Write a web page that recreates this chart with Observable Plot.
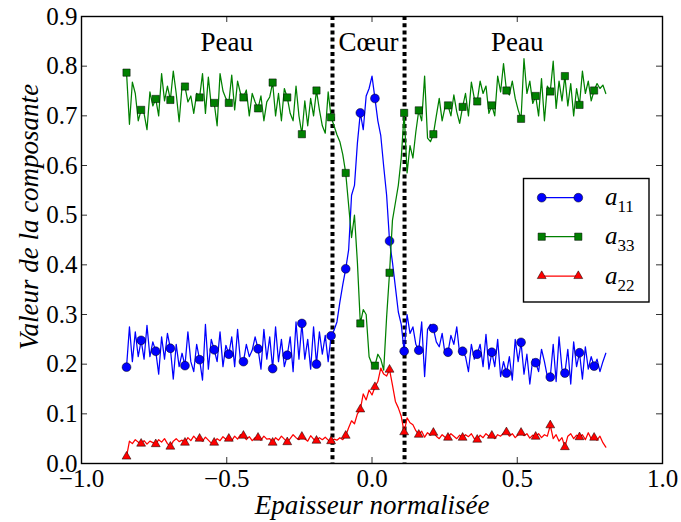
<!DOCTYPE html>
<html>
<head>
<meta charset="utf-8">
<script src="https://cdn.jsdelivr.net/npm/d3@7"></script>
<script src="https://cdn.jsdelivr.net/npm/@observablehq/plot@0.6"></script>
<style>
  html, body { margin: 0; padding: 0; background: white; }
  #wrap { position: relative; width: 681px; height: 522px; }
  #legend { position: absolute; left: 0; top: 0; }
  #wrap svg text { font-family: 'Liberation Serif', 'DejaVu Serif', serif !important; }
</style>
</head>
<body>
<div id="wrap"></div>
<script>
// ---- data ----
const xStart = -0.845;          // first sample
const xStep = 0.01006;          // sample spacing
const markEvery = 5;

const a11 = [
  0.194,0.275,0.205,0.265,0.215, 0.248,0.210,0.278,0.215,0.245,
  0.226,0.180,0.255,0.210,0.262, 0.232,0.170,0.240,0.195,0.222,
  0.197,0.265,0.205,0.185,0.240, 0.209,0.168,0.280,0.190,0.250,
  0.229,0.205,0.265,0.195,0.238, 0.220,0.255,0.195,0.270,0.205,
  0.205,0.240,0.215,0.228,0.255, 0.231,0.190,0.270,0.210,0.255,
  0.191,0.275,0.205,0.250,0.195, 0.218,0.255,0.185,0.285,0.210,
  0.282,0.210,0.250,0.190,0.275, 0.200,0.265,0.220,0.258,0.205,
  0.257,0.268,0.285,0.325,0.360, 0.392,0.430,0.540,0.560,0.645,
  0.706,0.672,0.740,0.755,0.780, 0.735,0.690,0.660,0.598,0.540,
  0.448,0.405,0.355,0.305,0.280, 0.226,0.300,0.262,0.275,0.240,
  0.228,0.285,0.175,0.270,0.280, 0.272,0.245,0.235,0.262,0.220,
  0.224,0.258,0.240,0.275,0.220, 0.226,0.215,0.185,0.240,0.210,
  0.220,0.240,0.195,0.260,0.190, 0.224,0.195,0.250,0.175,0.205,
  0.182,0.215,0.168,0.250,0.205, 0.244,0.180,0.220,0.160,0.210,
  0.203,0.185,0.230,0.205,0.175, 0.174,0.240,0.165,0.255,0.190,
  0.182,0.230,0.160,0.245,0.195, 0.223,0.170,0.235,0.190,0.215,
  0.196,0.210,0.185,0.205,0.222
];
const a33 = [
  0.787,0.683,0.768,0.745,0.690, 0.712,0.705,0.672,0.748,0.720,
  0.734,0.700,0.785,0.730,0.760, 0.732,0.790,0.745,0.688,0.760,
  0.759,0.728,0.740,0.705,0.745, 0.737,0.785,0.705,0.778,0.720,
  0.726,0.680,0.785,0.750,0.735, 0.726,0.782,0.712,0.770,0.745,
  0.737,0.752,0.700,0.745,0.728, 0.715,0.740,0.690,0.728,0.738,
  0.767,0.700,0.745,0.690,0.755, 0.737,0.705,0.690,0.760,0.700,
  0.663,0.730,0.680,0.735,0.700, 0.751,0.712,0.680,0.665,0.748,
  0.697,0.680,0.662,0.648,0.622, 0.585,0.520,0.455,0.500,0.405,
  0.282,0.310,0.300,0.215,0.200, 0.197,0.220,0.210,0.188,0.295,
  0.384,0.490,0.525,0.560,0.615, 0.706,0.585,0.640,0.615,0.668,
  0.711,0.690,0.780,0.655,0.648, 0.663,0.700,0.735,0.690,0.718,
  0.721,0.700,0.742,0.708,0.685, 0.718,0.745,0.700,0.768,0.735,
  0.729,0.770,0.745,0.760,0.705, 0.721,0.700,0.780,0.748,0.805,
  0.751,0.742,0.770,0.735,0.712, 0.694,0.815,0.745,0.770,0.725,
  0.740,0.700,0.775,0.690,0.760, 0.749,0.810,0.715,0.770,0.730,
  0.780,0.720,0.765,0.700,0.755, 0.722,0.790,0.745,0.770,0.730,
  0.751,0.765,0.755,0.762,0.745
];
const a22 = [
  0.014,0.045,0.040,0.048,0.043, 0.040,0.046,0.039,0.045,0.042,
  0.039,0.048,0.043,0.050,0.040, 0.034,0.045,0.050,0.044,0.047,
  0.042,0.052,0.046,0.055,0.048, 0.050,0.045,0.053,0.047,0.041,
  0.042,0.050,0.046,0.054,0.049, 0.050,0.046,0.055,0.049,0.058,
  0.056,0.048,0.054,0.046,0.052, 0.052,0.047,0.055,0.049,0.050,
  0.042,0.052,0.047,0.055,0.049, 0.043,0.050,0.058,0.052,0.048,
  0.054,0.050,0.045,0.056,0.049, 0.046,0.052,0.048,0.053,0.047,
  0.045,0.049,0.047,0.052,0.048, 0.056,0.072,0.086,0.080,0.100,
  0.109,0.140,0.128,0.148,0.138, 0.154,0.165,0.192,0.180,0.176,
  0.189,0.158,0.125,0.112,0.095, 0.063,0.092,0.082,0.078,0.066,
  0.058,0.065,0.053,0.062,0.057, 0.062,0.055,0.050,0.058,0.053,
  0.052,0.060,0.055,0.050,0.057, 0.052,0.058,0.054,0.060,0.050,
  0.048,0.057,0.052,0.060,0.055, 0.056,0.050,0.058,0.055,0.061,
  0.063,0.055,0.060,0.052,0.058, 0.062,0.056,0.060,0.051,0.057,
  0.054,0.060,0.052,0.058,0.055, 0.077,0.050,0.058,0.045,0.052,
  0.033,0.055,0.060,0.050,0.057, 0.053,0.058,0.048,0.062,0.050,
  0.052,0.047,0.055,0.042,0.033
];

const seriesNames = ["a11", "a33", "a22"];
const seriesSubs = ["11", "33", "22"];
const seriesColors = ["#0000ff", "#008000", "#ff0000"];
const seriesSymbols = ["circle", "square", "triangle"];
const seriesR = [4.4, 4.1, 3.3];

const xTicks = [-1.0, -0.5, 0.0, 0.5, 1.0];
const yTicks = [0.0, 0.1, 0.2, 0.3, 0.4, 0.5, 0.6, 0.7, 0.8, 0.9];
const boundaries = [-0.136, 0.112];
const regionLabels = ["Peau", "Cœur", "Peau"];
const regionX = [-0.5, -0.012, 0.5];
const regionY = 0.847;
const xLabel = "Epaisseur normalisée";
const yLabel = "Valeur de la composante";

// ---- build tables ----
const values = [a11, a33, a22];
const rows = values.map((arr, s) => arr.map((v, i) => ({
  s, i, x: xStart + i * xStep, y: v
})));

const W = 681, H = 522, mL = 81, mR = 19, mT = 16, mB = 59;
const innerH = H - mT - mB;
const tickLen = 6;
const FONT = "'Liberation Serif', 'DejaVu Serif', serif";

const marks = [
  Plot.ruleX(boundaries, {x: d => d, stroke: "black", strokeWidth: 4, strokeDasharray: "4,3.2"}),
];
rows.forEach((r, s) => {
  marks.push(Plot.line(r, {x: "x", y: "y", stroke: seriesColors[s], strokeWidth: 1.25}));
  marks.push(Plot.dot(r.filter(d => d.i % markEvery === 0), {
    x: "x", y: "y", symbol: seriesSymbols[s], r: seriesR[s],
    fill: seriesColors[s], stroke: "black", strokeWidth: 0.5
  }));
});
marks.push(
  Plot.text(regionLabels.map((t, k) => ({t, x: regionX[k]})), {
    x: "x", y: () => regionY, text: "t", fontSize: 27, fill: "black", fontFamily: FONT
  }),
  // inward ticks
  Plot.ruleX(xTicks, {x: d => d, insetTop: innerH - tickLen, stroke: "#333", strokeWidth: 1}),
  Plot.ruleX(xTicks, {x: d => d, insetBottom: innerH - tickLen, stroke: "#333", strokeWidth: 1}),
  Plot.ruleY(yTicks, {y: d => d, insetRight: (W - mL - mR) - tickLen, stroke: "#333", strokeWidth: 1}),
  Plot.ruleY(yTicks, {y: d => d, insetLeft: (W - mL - mR) - tickLen, stroke: "#333", strokeWidth: 1}),
  Plot.frame({stroke: "black", strokeWidth: 1.4}),
  Plot.text([xLabel], {frameAnchor: "bottom", text: d => d, dy: 42, textAnchor: "middle", lineAnchor: "middle",
    fontStyle: "italic", fontSize: 27, fill: "black", fontFamily: FONT}),
  Plot.text([yLabel], {frameAnchor: "left", text: d => d, rotate: -90, dx: -52, dy: -23, textAnchor: "middle", lineAnchor: "middle",
    fontStyle: "italic", fontSize: 27, fill: "black", fontFamily: FONT})
);

const chart = Plot.plot({
  width: W, height: H,
  marginLeft: mL, marginRight: mR, marginTop: mT, marginBottom: mB,
  style: {fontFamily: FONT, fontSize: "25px", color: "black", background: "white", overflow: "visible"},
  x: {domain: [-1, 1], ticks: xTicks, tickFormat: d3.format(".1f"), tickSize: 0, tickPadding: 6, label: null},
  y: {domain: [0, 0.9], ticks: yTicks, tickFormat: d3.format(".1f"), tickSize: 0, tickPadding: 4, label: null},
  marks
});
const wrap = document.getElementById("wrap");
wrap.appendChild(chart);

// ---- legend (inside the axes, upper right) ----
const leg = d3.select(wrap).append("svg").attr("id", "legend")
  .attr("width", W).attr("height", H)
  .style("font-family", FONT);
leg.append("rect").attr("x", 523.5).attr("y", 178.5).attr("width", 125.5).attr("height", 123.5)
  .attr("fill", "white").attr("stroke", "black").attr("stroke-width", 1.4);
const rowY = [197.7, 236.7, 276];
seriesNames.forEach((n, s) => {
  const g = leg.append("g");
  g.append("line").attr("x1", 541.7).attr("x2", 578.3).attr("y1", rowY[s]).attr("y2", rowY[s])
    .attr("stroke", seriesColors[s]).attr("stroke-width", 1.25);
  const sym = {circle: d3.symbolCircle, square: d3.symbolSquare, triangle: d3.symbolTriangle}[seriesSymbols[s]];
  [541.7, 578.3].forEach(cx => {
    g.append("path").attr("d", d3.symbol(sym, seriesR[s] * seriesR[s] * Math.PI)())
      .attr("transform", `translate(${cx},${rowY[s]})`)
      .attr("fill", seriesColors[s]).attr("stroke", "black").attr("stroke-width", 0.5);
  });
  const t = g.append("text").attr("x", 605).attr("y", rowY[s] + 7.5).attr("fill", "black");
  t.append("tspan").text("a").attr("font-style", "italic").attr("font-size", 25);
  t.append("tspan").text(seriesSubs[s]).attr("font-size", 17).attr("dy", 7);
});
</script>
</body>
</html>
